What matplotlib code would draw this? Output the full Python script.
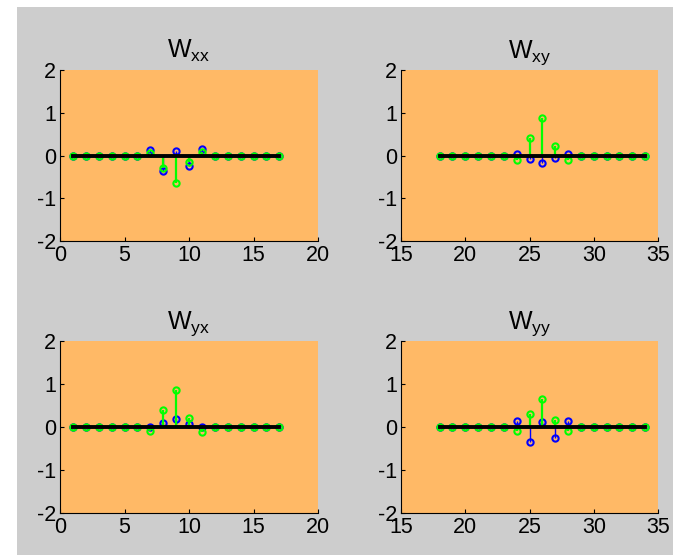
import numpy as np
import matplotlib
matplotlib.use('Agg')
import matplotlib.pyplot as plt
from matplotlib.patches import Rectangle

# indices of the stems
idx_x = np.arange(1, 18)
idx_y = np.arange(18, 35)

# blue series (first) and green series (second) for each panel
wxx_blue  = [0, 0, 0, 0, 0, 0, 0.12, -0.36, 0.11, -0.24, 0.16, 0, 0, 0, 0, 0, 0]
wxx_green = [0, 0, 0, 0, 0, 0, 0.06, -0.30, -0.65, -0.16, 0.09, 0, 0, 0, 0, 0, 0]
wxy_blue  = [0, 0, 0, 0, 0, 0, 0.04, -0.08, -0.18, -0.05, 0.04, 0, 0, 0, 0, 0, 0]
wxy_green = [0, 0, 0, 0, 0, 0, -0.11, 0.41, 0.88, 0.23, -0.11, 0, 0, 0, 0, 0, 0]
wyx_blue  = [0, 0, 0, 0, 0, 0, 0.01, 0.09, 0.19, 0.07, 0.01, 0, 0, 0, 0, 0, 0]
wyx_green = [0, 0, 0, 0, 0, 0, -0.10, 0.39, 0.85, 0.21, -0.11, 0, 0, 0, 0, 0, 0]
wyy_blue  = [0, 0, 0, 0, 0, 0, 0.13, -0.36, 0.11, -0.25, 0.13, 0, 0, 0, 0, 0, 0]
wyy_green = [0, 0, 0, 0, 0, 0, -0.09, 0.31, 0.65, 0.16, -0.09, 0, 0, 0, 0, 0, 0]

titles = [r'W$_{\mathregular{xx}}$', r'W$_{\mathregular{xy}}$',
          r'W$_{\mathregular{yx}}$', r'W$_{\mathregular{yy}}$']
xlims = [(0, 20), (15, 35), (0, 20), (15, 35)]
xticks = [[0, 5, 10, 15, 20], [15, 20, 25, 30, 35], [0, 5, 10, 15, 20], [15, 20, 25, 30, 35]]

plt.rcParams['font.family'] = ['Liberation Sans', 'DejaVu Sans']
plt.rcParams['mathtext.fontset'] = 'custom'
plt.rcParams['mathtext.rm'] = 'Liberation Sans'
plt.rcParams['axes.unicode_minus'] = False

W, H = 673, 555
fig = plt.figure(figsize=(W / 100, H / 100), dpi=100, facecolor='white')
# gray figure area (white strip on top and left)
fig.patches.append(Rectangle((17 / W, 0), 1, 1 - 7 / H, transform=fig.transFigure,
                             facecolor='#cdcdcd', edgecolor='none', zorder=-10))

orange = '#ffb966'
boxes = [(60, 70, 318, 241), (401, 70, 658, 241), (60, 341, 318, 513), (401, 341, 658, 513)]
data = [(idx_x, wxx_blue, wxx_green), (idx_y, wxy_blue, wxy_green),
        (idx_x, wyx_blue, wyx_green), (idx_y, wyy_blue, wyy_green)]

for k in range(4):
    x0, y0, x1, y1 = boxes[k]
    ax = fig.add_axes([x0 / W, 1 - y1 / H, (x1 - x0) / W, (y1 - y0) / H])
    ax.set_facecolor(orange)
    idx, blue, green = data[k]
    for vals, col, lw in [(blue, '#0000ff', 1.0), (green, '#00ff00', 1.6)]:
        ml, sl, bl = ax.stem(idx, vals, basefmt=' ')
        plt.setp(sl, color=col, linewidth=lw)
        plt.setp(ml, color=col, marker='o', markersize=4.5, markerfacecolor='none',
                 markeredgewidth=1.5)
    ax.plot([idx[0], idx[-1]], [0, 0], color='black', linewidth=2.8, zorder=2.5)
    ax.set_xlim(*xlims[k])
    ax.set_ylim(-2, 2)
    ax.set_xticks(xticks[k])
    ax.set_yticks([-2, -1, 0, 1, 2])
    ax.tick_params(direction='in', length=3, labelsize=15.5, pad=3)
    for s in ['top', 'right']:
        ax.spines[s].set_visible(False)
    ax.set_title(titles[k], fontsize=18, pad=9)

fig.savefig('out.png', dpi=100, facecolor=fig.get_facecolor())
